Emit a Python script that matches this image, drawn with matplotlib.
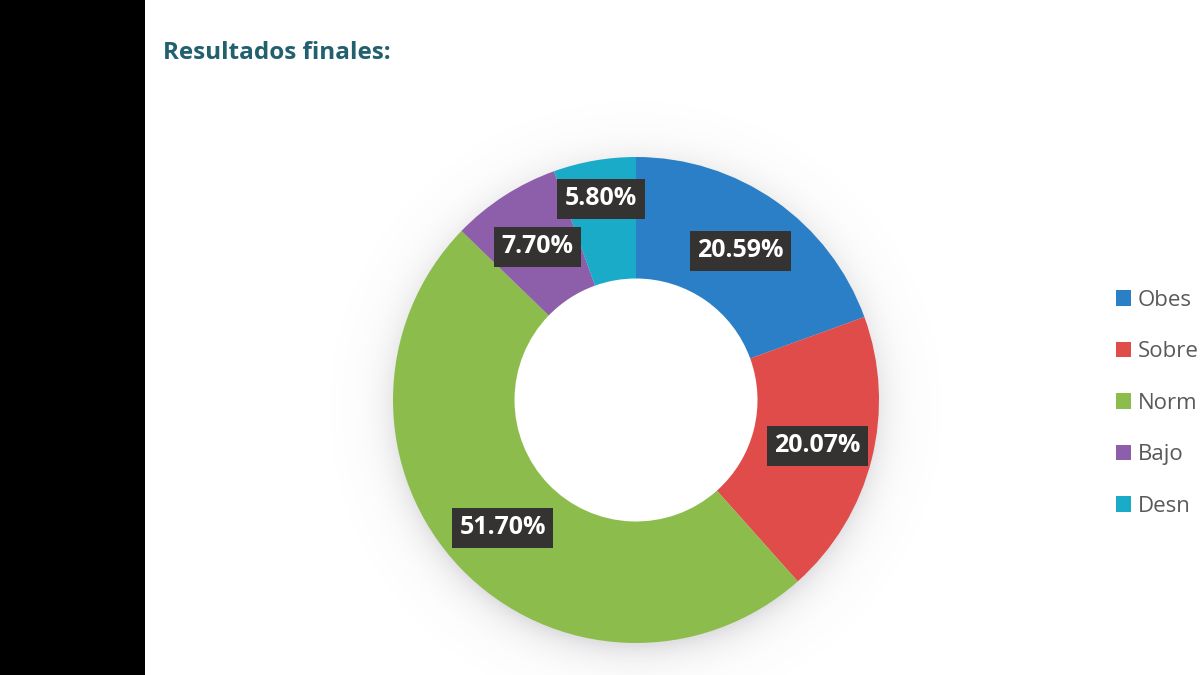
import numpy as np
import matplotlib
matplotlib.use("Agg")
import matplotlib.pyplot as plt
from matplotlib.patches import Rectangle

# ---- data ----
# legend labels as visible in the reference (cut at the image edge)
categories = ["Obes", "Sobre", "Norm", "Bajo", "Desn"]
values = [20.59, 20.07, 51.70, 7.70, 5.80]
colors = ["#2a7fc6", "#e04c4a", "#8cbd4c", "#8d5ea9", "#1aabc8"]
label_dist = [0.75, 0.77, 0.76, 0.75, 0.84]
title = "Resultados finales:"

plt.rcParams['font.family'] = ['Open Sans', 'DejaVu Sans']

W, H = 1200, 675
fig = plt.figure(figsize=(12, 6.75), dpi=100)
fig.patch.set_facecolor("white")

# black bar on the left
fig.patches.append(Rectangle((0, 0), 145 / W, 1, transform=fig.transFigure,
                             facecolor="black", edgecolor="none", zorder=0))

# title
fig.text(163 / W, 1 - 53 / H, title, fontsize=17.5, fontweight="bold",
         color="#23606f", va="center", ha="left")

# pie axes
cx, cy, R = 636, 400, 243
lim = 1.3
size = R * lim * 2
ax = fig.add_axes([(cx - size / 2) / W, (H - cy - size / 2) / H, size / W, size / H])

# soft shadow
n = 600
xs = np.linspace(-lim, lim, n)
X, Y = np.meshgrid(xs, xs)
r = np.sqrt(X ** 2 + (Y + 0.03) ** 2)
alpha = np.where(r > 0.98, 0.22 * np.exp(-np.clip(r - 0.98, 0, None) / 0.07), 0.22)
img = np.zeros((n, n, 4))
img[..., 0] = 0.45
img[..., 1] = 0.45
img[..., 2] = 0.5
img[..., 3] = alpha
ax.imshow(img, extent=[-lim, lim, -lim, lim], origin="lower", zorder=0)

wedges, _ = ax.pie(values, colors=colors, startangle=90, counterclock=False,
                   radius=1.0, wedgeprops=dict(width=0.5, linewidth=0))
for w in wedges:
    w.set_zorder(2)

# hole (white over shadow)
ax.add_patch(plt.Circle((0, 0), 0.5, color="white", zorder=1.5))

for w, v, d in zip(wedges, values, label_dist):
    ang = np.deg2rad((w.theta1 + w.theta2) / 2)
    ax.text(d * np.cos(ang), d * np.sin(ang), f"{v:.2f}%", ha="center", va="center",
            fontsize=18, fontweight="bold", color="white", zorder=5,
            bbox=dict(boxstyle="square,pad=0.3", fc="#353232", ec="none"))

ax.set_xlim(-lim, lim)
ax.set_ylim(-lim, lim)
ax.set_aspect("equal")
ax.axis("off")

leg = fig.legend(wedges, categories, loc="upper left",
                 bbox_to_anchor=(1107 / W, 1 - 281 / H), frameon=False,
                 fontsize=16, handlelength=0.7, handleheight=0.7,
                 handletextpad=0.3, labelspacing=1.37, borderaxespad=0)
for t in leg.get_texts():
    t.set_color("#595959")

fig.savefig("out.png", dpi=100, facecolor="white")
